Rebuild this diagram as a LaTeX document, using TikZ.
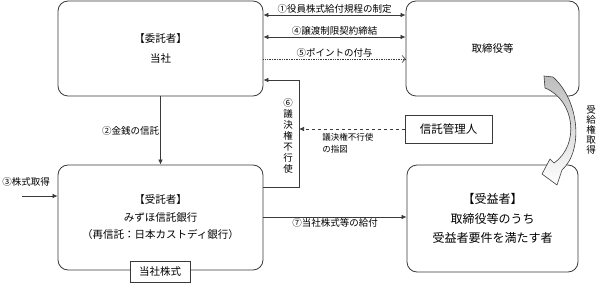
\documentclass[tikz,border=0pt]{standalone}
\usepackage{fontspec}
\setmainfont{Noto Sans CJK JP}
\usepackage{tikz}
\usepackage{xcolor}
\definecolor{LineGray}{HTML}{3A3A3A}
\definecolor{ArrowGray}{HTML}{BDBDBD}
\usetikzlibrary{arrows.meta, positioning, calc}

\begin{document}
\begin{tikzpicture}[x=1pt, y=-1pt, align=center, line width=0.7pt,
    party/.style={draw=LineGray, rounded corners=10pt, line width=0.8pt, inner sep=0pt},
    plainbox/.style={draw=LineGray, line width=0.8pt, fill=white, inner sep=0pt},
    flow/.style={draw=LineGray, -{Latex[length=5pt,width=4.5pt]}},
    twoway/.style={draw=LineGray, {Latex[length=5pt,width=4.5pt]}-{Latex[length=5pt,width=4.5pt]}},
    lbl/.style={font=\fontsize{9.5}{11}\selectfont, inner sep=1pt}]
    \useasboundingbox (0,0) rectangle (597,283);

    % Parties
    \node (client) [party, minimum width=205pt, minimum height=95pt, font=\fontsize{10.5}{20}\selectfont] at (160.5,48.5) {【委託者】\\当社};
    \node (director) [party, minimum width=173pt, minimum height=95pt, font=\fontsize{10.5}{13}\selectfont] at (492.5,48.5) {取締役等};
    \node (trustee) [party, minimum width=205pt, minimum height=105pt, font=\fontsize{10.5}{17.5}\selectfont] at (160.5,217.5) {【受託者】\\みずほ信託銀行\\（再信託：日本カストディ銀行）};
    \node (beneficiary) [party, minimum width=171pt, minimum height=107pt, font=\fontsize{12}{19.5}\selectfont] at (492.5,218.5) {【受益者】\\取締役等のうち\\受益者要件を満たす者};
    \node (shares) [plainbox, minimum width=60pt, minimum height=21pt, font=\fontsize{10.5}{13}\selectfont] at (160,271.5) {当社株式};
    \node (admin) [plainbox, minimum width=87pt, minimum height=28pt, font=\fontsize{11.5}{14}\selectfont] at (448.5,129) {信託管理人};

    % Agreements between company and directors
    \draw[twoway] (client.east |- 0,15) -- node[lbl, above] {①役員株式給付規程の制定} (director.west |- 0,15);
    \draw[twoway] (client.east |- 0,37) -- node[lbl, above] {④譲渡制限契約締結} (director.west |- 0,37);
    \draw[draw=LineGray, densely dotted, -{Straight Barb[length=3pt,width=7pt]}] (client.east |- 0,59) -- node[lbl, above] {⑤ポイントの付与} (director.west |- 0,59);

    % Trust flows
    \draw[flow] (client) -- node[lbl, left] {②金銭の信託} (trustee);
    \coordinate (buystart) at (22,196);
    \node (buylabel) [lbl] at (26,182) {③株式取得};
    \draw[flow] (buystart) -- (trustee.west |- buystart);

    % Voting rights
    \coordinate (votecorner) at (299,80);
    \draw[flow] (trustee.east |- 0,187) -| (votecorner) -- (client.east |- votecorner);
    \node (votelabel) [lbl] at (288,136) {⑥\\議\\決\\権\\不\\行\\使};
    \draw[flow, dashed] (admin.west) -- (votecorner |- admin.west);
    \node (instrlabel) [lbl, font=\fontsize{8.5}{12}\selectfont, align=left, anchor=north west] at (321,132) {議決権不行使\\の指図};

    % Delivery of shares
    \draw[flow] (trustee.east |- 0,217) -- node[lbl, below] {⑦当社株式等の給付} (beneficiary.west |- 0,217);

    % Entitlement
    \draw[draw=LineGray, line width=0.6pt, top color=ArrowGray, bottom color=white]
      (544,76) -- (553,77) .. controls (579,100) and (584,150) .. (562,170)
      -- (557,185) -- (542,174) -- (550,159) -- (554,163)
      .. controls (580,145) and (575,100) .. (545,88) -- cycle;
    \node (entitlelabel) [lbl, font=\fontsize{9.5}{10}\selectfont] at (591,130) {受\\給\\権\\取\\得};
\end{tikzpicture}
\end{document}
